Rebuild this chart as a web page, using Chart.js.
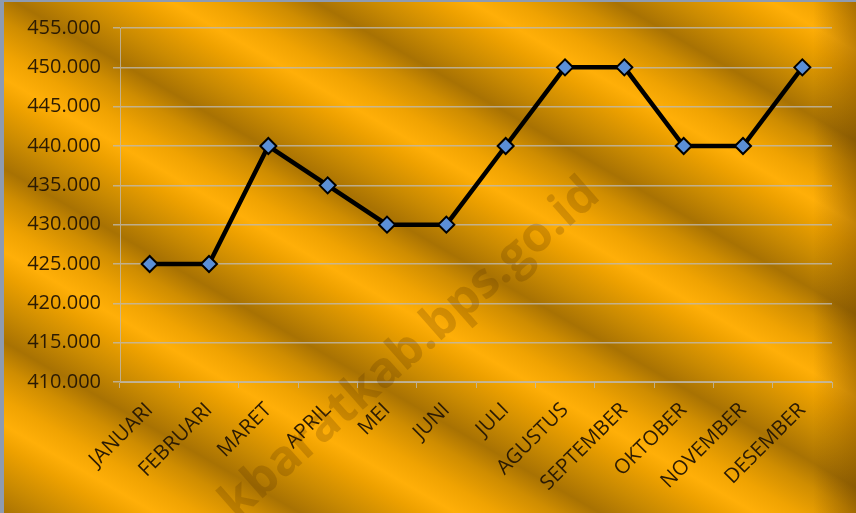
<!DOCTYPE html>
<html lang="id">
<head>
<meta charset="UTF-8">
<title>Grafik Bulanan</title>
<script src="https://cdn.jsdelivr.net/npm/chart.js"></script>
<style>
    body {
        margin: 0;
        font-family: "Open Sans", sans-serif;
    }
    .wrap {
        position: relative;
        width: 856px;
        height: 513px;
        background:
            linear-gradient(to right, rgba(0,0,0,0) 95%, rgba(80,45,0,0.35) 100%),
            repeating-linear-gradient(30deg,
                #a87203 0px, #c98a02 28px, #eea100 60px, #ffaf08 78px,
                #f0a302 100px, #cf8d01 128px, #a87203 150px);
        box-shadow: inset 4px 2px 0 #8e9bb0;
    }
    canvas {
        position: absolute;
        left: 0;
        top: 0;
    }
</style>
</head>
<body>
<div class="wrap"><canvas id="chart" width="856" height="513"></canvas></div>

<script>
    const bulan = ['JANUARI', 'FEBRUARI', 'MARET', 'APRIL', 'MEI', 'JUNI',
                   'JULI', 'AGUSTUS', 'SEPTEMBER', 'OKTOBER', 'NOVEMBER', 'DESEMBER'];
    const nilai = [425000, 425000, 440000, 435000, 430000, 430000,
                   440000, 450000, 450000, 440000, 440000, 450000];
    const yMin = 410000;
    const yMax = 455000;
    const yStep = 5000;
    const watermark = 'kbaratkab.bps.go.id';

    // 455000 -> "455.000"
    function formatRibuan(v) {
        return String(Math.round(v)).replace(/\B(?=(\d{3})+(?!\d))/g, '.');
    }

    const watermarkPlugin = {
        id: 'watermark',
        beforeDatasetsDraw(chart) {
            const ctx = chart.ctx;
            ctx.save();
            ctx.translate(602, 198);
            ctx.rotate(-41.5 * Math.PI / 180);
            ctx.font = 'bold 49px "Open Sans"';
            ctx.fillStyle = 'rgba(80, 45, 0, 0.22)';
            ctx.textAlign = 'right';
            ctx.textBaseline = 'alphabetic';
            ctx.fillText(watermark, 0, 0);
            ctx.restore();
        }
    };

    const gridGrey = 'rgba(190, 185, 175, 0.8)';
    const teks = '#2a1a04';

    new Chart(document.getElementById('chart'), {
        type: 'line',
        data: {
            labels: bulan,
            datasets: [{
                data: nilai,
                borderColor: '#000',
                borderWidth: 4.5,
                tension: 0,
                pointStyle: 'rectRot',
                pointRadius: 8,
                pointBackgroundColor: '#5b8fd6',
                pointBorderColor: '#000',
                pointBorderWidth: 2
            }]
        },
        options: {
            responsive: false,
            animation: false,
            layout: { padding: { left: 0, top: 28, right: 24, bottom: 0 } },
            plugins: {
                legend: { display: false },
                tooltip: { enabled: false }
            },
            scales: {
                x: {
                    offset: true,
                    grid: {
                        offset: true,
                        drawOnChartArea: false,
                        color: gridGrey,
                        tickLength: 6
                    },
                    border: { color: gridGrey },
                    ticks: {
                        color: teks,
                        font: { family: 'Open Sans', size: 20.5 },
                        minRotation: 45,
                        maxRotation: 45,
                        padding: 10
                    },
                    afterFit(s) { s.height = 131; }
                },
                y: {
                    min: yMin,
                    max: yMax,
                    grid: {
                        color: gridGrey,
                        lineWidth: 1.5,
                        tickLength: 7
                    },
                    border: { color: gridGrey },
                    ticks: {
                        stepSize: yStep,
                        color: teks,
                        font: { family: 'Open Sans', size: 20 },
                        padding: 12,
                        callback: v => formatRibuan(v)
                    },
                    afterFit(s) { s.width = 120; }
                }
            }
        },
        plugins: [watermarkPlugin]
    });
</script>
</body>
</html>
